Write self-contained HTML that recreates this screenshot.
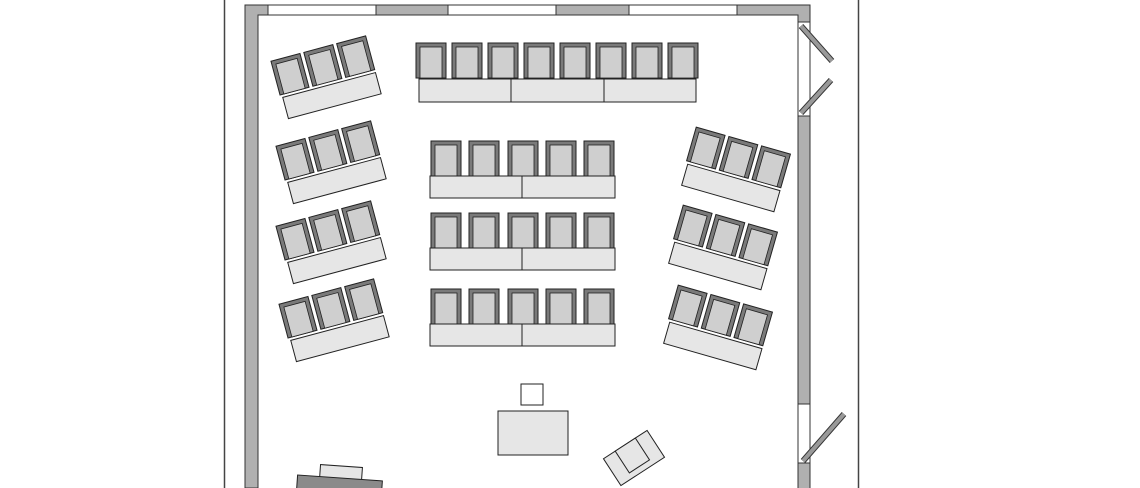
<!DOCTYPE html>
<html><head><meta charset="utf-8"><style>html,body{margin:0;padding:0;background:#fff}svg{display:block}</style></head>
<body>
<svg width="1140" height="488" viewBox="0 0 1140 488" xmlns="http://www.w3.org/2000/svg">
<defs>
<g id="ch">
<rect x="0" y="0" width="30" height="35" fill="#7a7a7a" stroke="#222" stroke-width="1"/>
<rect x="4" y="4" width="22" height="31" fill="#cfcfcf" stroke="#222" stroke-width="0.8"/>
</g>
<g id="grp">
<use href="#ch" x="0" y="0"/><use href="#ch" x="34" y="0"/><use href="#ch" x="68" y="0"/>
<rect x="2" y="38" width="96" height="22" fill="#e6e6e6" stroke="#222" stroke-width="1"/>
</g>
</defs>
<line x1="224.5" y1="0" x2="224.5" y2="488" stroke="#444" stroke-width="1.5"/>
<line x1="858.5" y1="0" x2="858.5" y2="488" stroke="#444" stroke-width="1.5"/>
<!-- walls -->
<path d="M245,488 V5 H810 V22 H798 V15 H258 V488 Z" fill="#b0b0b0" stroke="#333" stroke-width="1"/>
<rect x="798" y="116" width="12" height="288" fill="#b0b0b0" stroke="#333" stroke-width="1"/>
<rect x="798" y="463" width="12" height="30" fill="#b0b0b0" stroke="#333" stroke-width="1"/>
<rect x="798" y="22" width="12" height="94" fill="#fff" stroke="#333" stroke-width="1"/>
<rect x="798" y="404" width="12" height="59" fill="#fff" stroke="#333" stroke-width="1"/>
<rect x="268" y="5" width="108" height="10" fill="#fff" stroke="#333" stroke-width="1"/>
<rect x="448" y="5" width="108" height="10" fill="#fff" stroke="#333" stroke-width="1"/>
<rect x="629" y="5" width="108" height="10" fill="#fff" stroke="#333" stroke-width="1"/>
<line x1="801" y1="26" x2="832" y2="61" stroke="#333" stroke-width="6"/>
<line x1="801" y1="26" x2="832" y2="61" stroke="#999" stroke-width="4"/>
<line x1="801" y1="113" x2="831" y2="80" stroke="#333" stroke-width="6"/>
<line x1="801" y1="113" x2="831" y2="80" stroke="#999" stroke-width="4"/>
<line x1="803" y1="461" x2="844" y2="414" stroke="#333" stroke-width="6"/>
<line x1="803" y1="461" x2="844" y2="414" stroke="#999" stroke-width="4"/>
<!-- top row -->
<g>
<use href="#ch" x="416" y="43"/><use href="#ch" x="452" y="43"/><use href="#ch" x="488" y="43"/><use href="#ch" x="524" y="43"/><use href="#ch" x="560" y="43"/><use href="#ch" x="596" y="43"/><use href="#ch" x="632" y="43"/><use href="#ch" x="668" y="43"/>
<rect x="419" y="79" width="92" height="23" fill="#e6e6e6" stroke="#222"/>
<rect x="511" y="79" width="93" height="23" fill="#e6e6e6" stroke="#222"/>
<rect x="604" y="79" width="92" height="23" fill="#e6e6e6" stroke="#222"/>
</g>
<!-- middle rows -->
<g id="mrow">
<use href="#ch" x="431" y="141"/><use href="#ch" x="469" y="141"/><use href="#ch" x="508" y="141"/><use href="#ch" x="546" y="141"/><use href="#ch" x="584" y="141"/>
<rect x="430" y="176" width="92" height="22" fill="#e6e6e6" stroke="#222"/>
<rect x="522" y="176" width="93" height="22" fill="#e6e6e6" stroke="#222"/>
</g>
<use href="#mrow" y="72"/>
<use href="#mrow" y="148"/>
<!-- side groups -->
<use href="#grp" transform="translate(328,77) rotate(-15) translate(-51,-30)"/>
<use href="#grp" transform="translate(333,162) rotate(-15) translate(-51,-30)"/>
<use href="#grp" transform="translate(333,242) rotate(-15) translate(-51,-30)"/>
<use href="#grp" transform="translate(336,320) rotate(-15) translate(-51,-30)"/>
<use href="#grp" transform="translate(737,170) rotate(16) translate(-51,-30)"/>
<use href="#grp" transform="translate(724,248) rotate(16) translate(-51,-30)"/>
<use href="#grp" transform="translate(719,328) rotate(16) translate(-51,-30)"/>
<!-- teacher -->
<rect x="521" y="384" width="22" height="21" fill="#fff" stroke="#222"/>
<rect x="498" y="411" width="70" height="44" fill="#e6e6e6" stroke="#222"/>
<g transform="translate(634,458) rotate(-33)">
<rect x="-26" y="-16" width="52" height="32" fill="#e6e6e6" stroke="#222"/>
<rect x="-12" y="-16" width="24" height="26" fill="#e6e6e6" stroke="#222"/>
</g>
<rect x="320" y="466" width="42" height="14" fill="#e6e6e6" stroke="#222" transform="rotate(4 341 473)"/>
<rect x="297" y="478" width="85" height="14" fill="#8a8a8a" stroke="#222" transform="rotate(4 340 485)"/>
</svg>
</body></html>
